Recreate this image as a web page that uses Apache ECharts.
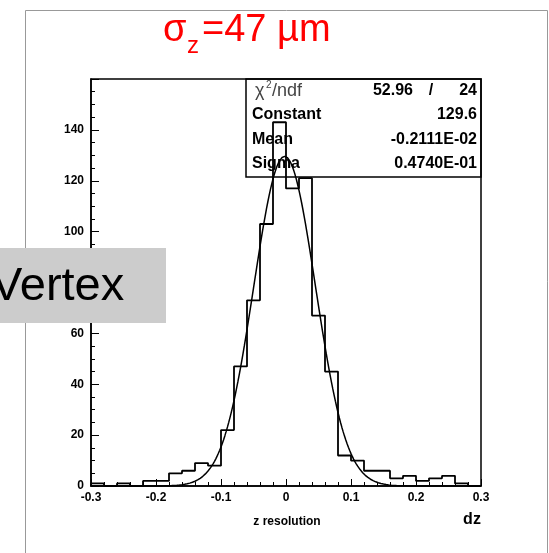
<!DOCTYPE html>
<html>
<head>
<meta charset="utf-8">
<script src="https://cdn.jsdelivr.net/npm/echarts@6/dist/echarts.min.js"></script>
<style>
  html, body { margin: 0; padding: 0; background: #fff; }
  #chart { width: 549px; height: 553px; }
</style>
</head>
<body>
<div id="chart"></div>
<script>
// dz distribution: 30 bins of width 0.02 from -0.3 to 0.3
const binLow = -0.3;
const binWidth = 0.02;
const binCounts = [1, 0, 1, 0, 2, 2, 5, 6, 9, 8, 22, 47, 73, 103, 143,
                   117, 121, 67, 45, 12, 10, 6, 6, 3, 4, 2, 3, 4, 1, 0];

// Gaussian fit results shown in the statistics box
const fitConstant = 129.6;
const fitMean = -0.2111e-2;
const fitSigma = 0.4740e-1;
const chi2Text = '52.96';
const ndfText = '24';
const constantText = '129.6';
const meanText = '-0.2111E-02';
const sigmaText = '0.4740E-01';

// Axis ranges and tick spacing
const xMin = -0.3, xMax = 0.3, xStep = 0.1;
const yMin = 0, yMax = 160, yStep = 20;

const FONT = '"Liberation Sans", Arial, Helvetica, sans-serif';

// Histogram outline as a stepped polyline through the bin edges
const histPoints = [[binLow, 0]];
binCounts.forEach((c, i) => {
  histPoints.push([+(binLow + i * binWidth).toFixed(4), c]);
});
histPoints.push([+(binLow + binCounts.length * binWidth).toFixed(4), 0]);

// Fitted Gaussian evaluated from its parameters
const fitPoints = [];
for (let i = 0; i <= 300; i++) {
  const x = +(xMin + i * 0.002).toFixed(4);
  const u = (x - fitMean) / fitSigma;
  fitPoints.push([x, fitConstant * Math.exp(-0.5 * u * u)]);
}

const chart = echarts.init(document.getElementById('chart'), null, { renderer: 'canvas' });

function txt(text, x, y, font, opts) {
  opts = opts || {};
  return {
    type: 'text',
    z: opts.z || 50,
    style: {
      text: text, x: x, y: y, font: font,
      fill: opts.fill || '#000',
      align: opts.align || 'left', textAlign: opts.align || 'left',
      verticalAlign: 'middle', textVerticalAlign: 'middle'
    }
  };
}

const boldStat = 'bold 16px ' + FONT;

chart.setOption({
  animation: false,
  backgroundColor: '#fff',
  grid: {
    left: 91, right: 68, top: 79, bottom: 67,
    show: true, borderColor: '#000', borderWidth: 1.5,
    backgroundColor: 'transparent'
  },
  xAxis: {
    type: 'value', min: xMin, max: xMax, interval: xStep,
    axisLine: { show: true, onZero: false, lineStyle: { color: '#000', width: 1.5 } },
    axisTick: { show: true, inside: true, length: 7, lineStyle: { color: '#000', width: 1 } },
    minorTick: { show: true, splitNumber: 5, length: 4, lineStyle: { color: '#000', width: 1 } },
    splitLine: { show: false },
    axisLabel: {
      color: '#000', fontFamily: FONT, fontWeight: 'bold', fontSize: 12, margin: 6,
      formatter: v => String(+v.toFixed(1))
    }
  },
  yAxis: {
    type: 'value', min: yMin, max: yMax, interval: yStep,
    axisLine: { show: true, onZero: false, lineStyle: { color: '#000', width: 1.5 } },
    axisTick: { show: true, inside: true, length: 8, lineStyle: { color: '#000', width: 1 } },
    minorTick: { show: true, splitNumber: 4, length: 4, lineStyle: { color: '#000', width: 1 } },
    splitLine: { show: false },
    axisLabel: {
      color: '#000', fontFamily: FONT, fontWeight: 'bold', fontSize: 12, margin: 7,
      showMaxLabel: false
    }
  },
  series: [
    {
      name: 'dz', type: 'line', step: 'end', data: histPoints,
      showSymbol: false, symbol: 'none', z: 3,
      lineStyle: { color: '#000', width: 1.8 }
    },
    {
      name: 'gaus', type: 'line', data: fitPoints,
      showSymbol: false, symbol: 'none', z: 4, smooth: false,
      lineStyle: { color: '#000', width: 1.5 }
    }
  ],
  graphic: [
    // page frame
    {
      type: 'polyline', z: 1,
      shape: { points: [[25.5, 553], [25.5, 10.5], [547.5, 10.5], [547.5, 553]] },
      style: { stroke: '#999', lineWidth: 1, fill: 'none' }
    },
    // title
    txt('σ', 163, 31, '38px ' + FONT, { fill: '#ff0000' }),
    txt('z', 187, 46, '24px ' + FONT, { fill: '#ff0000' }),
    txt('=47 µm', 202, 31, '38px ' + FONT, { fill: '#ff0000' }),
    // statistics box
    {
      type: 'rect', z: 20,
      shape: { x: 246, y: 79, width: 235, height: 98 },
      style: { fill: 'none', stroke: '#000', lineWidth: 1.5 }
    },
    txt('χ', 255, 91, '18px ' + FONT, { fill: '#444' }),
    txt('2', 266, 85, '10px ' + FONT, { fill: '#444' }),
    txt('/ndf', 272, 91, '18px ' + FONT, { fill: '#444' }),
    txt(chi2Text, 413, 91, boldStat, { align: 'right' }),
    txt('/', 431, 91, boldStat, { align: 'center' }),
    txt(ndfText, 477, 91, boldStat, { align: 'right' }),
    txt('Constant', 252, 115, boldStat),
    txt(constantText, 477, 115, boldStat, { align: 'right' }),
    txt('Mean', 252, 140, boldStat),
    txt(meanText, 477, 140, boldStat, { align: 'right' }),
    txt('Sigma', 252, 164, boldStat),
    txt(sigmaText, 477, 164, boldStat, { align: 'right' }),
    // axis titles
    txt('z resolution', 287, 522, 'bold 12px ' + FONT, { align: 'center' }),
    txt('dz', 472, 520, 'bold 16px ' + FONT, { align: 'center' }),
    // overlay label
    {
      type: 'rect', z: 100,
      shape: { x: 0, y: 248, width: 166, height: 75 },
      style: { fill: '#cccccc', stroke: 'none' }
    },
    txt('Vertex', -9, 287, '47px ' + FONT, { z: 101 })
  ]
});
</script>
</body>
</html>
